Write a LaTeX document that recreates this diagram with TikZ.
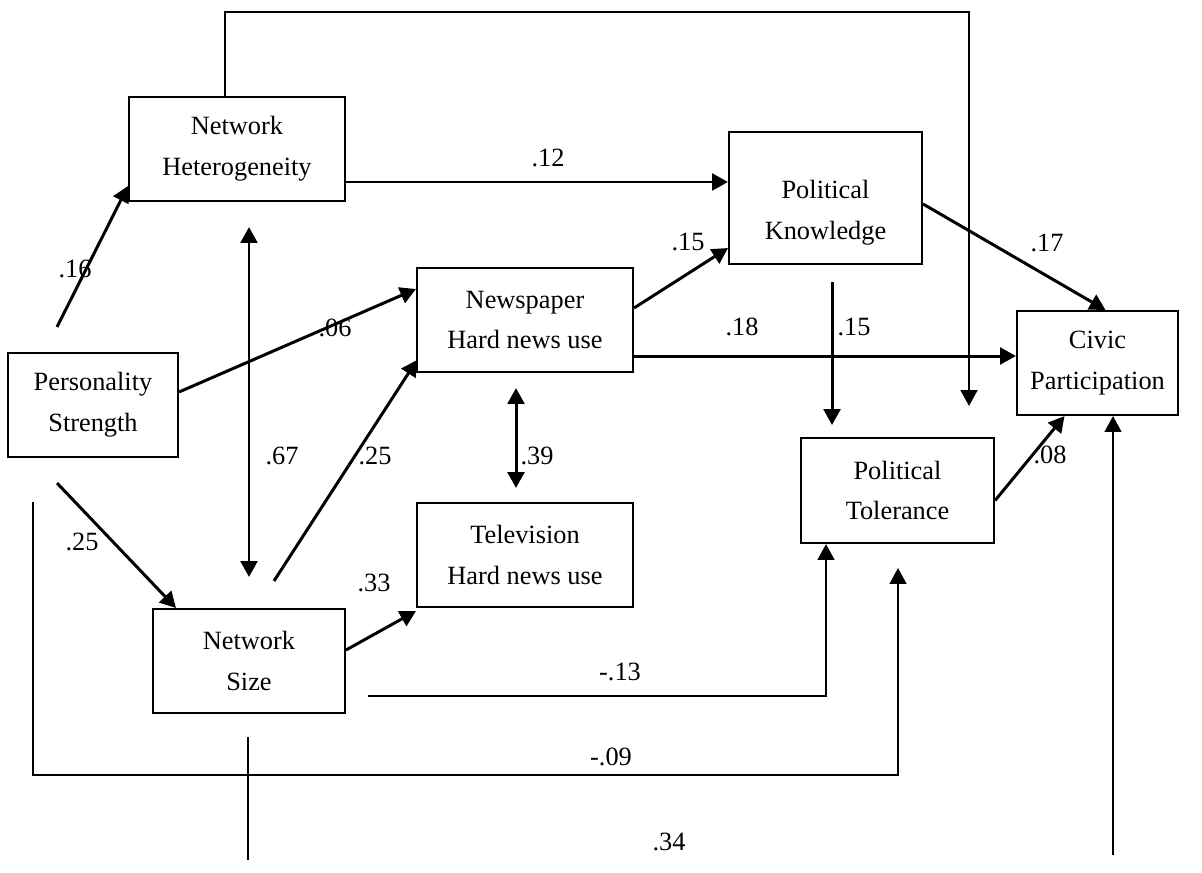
\documentclass[tikz,border=0pt]{standalone}
\usepackage{fontspec}
\setmainfont{Liberation Serif}
\usetikzlibrary{arrows.meta,calc}

\tikzset{
  box/.style={draw, line width=1.2pt, align=center, inner sep=0pt,
    font=\fontsize{15}{23.3}\selectfont},
  link/.style={line width=1.7pt, -{Triangle[length=9pt,width=9.5pt]}},
  twoway/.style={line width=1.7pt,
    {Triangle[length=9pt,width=9.5pt]}-{Triangle[length=9pt,width=9.5pt]}},
  elbow/.style={line width=1.3pt},
  coef/.style={font=\fontsize{15}{17}\selectfont, inner sep=0pt},
}

\begin{document}
\begin{tikzpicture}[x=0.02cm, y=-0.02cm]
    \useasboundingbox (0,0) rectangle (1202,872);
    % boxes
    \node[box, minimum width=4.32cm, minimum height=2.08cm] (het) at (237,149) {Network\\Heterogeneity};
    \node[box, minimum width=3.86cm, minimum height=2.64cm,
      label={[name=knowtxt, align=center, font=\fontsize{15}{23.3}\selectfont, yshift=-0.3cm]center:{Political\\Knowledge}}] (know) at (825.5,198) {};
    \node[box, minimum width=4.32cm, minimum height=2.08cm] (news) at (525,320) {Newspaper\\Hard news use};
    \node[box, minimum width=3.4cm, minimum height=2.08cm] (pers) at (93,405) {Personality\\Strength};
    \node[box, minimum width=3.22cm, minimum height=2.08cm] (civic) at (1097.5,363) {Civic\\Participation};
    \node[box, minimum width=3.86cm, minimum height=2.1cm] (tol) at (897.5,490.5) {Political\\Tolerance};
    \node[box, minimum width=4.32cm, minimum height=2.08cm] (tv) at (525,555) {Television\\Hard news use};
    \node[box, minimum width=3.84cm, minimum height=2.08cm] (size) at (249,661) {Network\\Size};

    % free ends
    \coordinate (topL) at (225,12);
    \coordinate (topR) at (969,12);
    \coordinate (topEnd) at (969,406);
    \coordinate (hkRow) at (0,182);
    \coordinate (ncRow) at (0,356);
    \coordinate (ktTop) at (832,282);
    \coordinate (ktEnd) at (832,425);
    \coordinate (nsA) at (368,696);
    \coordinate (nsB) at (826,696);
    \coordinate (psA) at (33,502);
    \coordinate (psB) at (33,775);
    \coordinate (psC) at (898,775);
    \coordinate (psEnd) at (898,568);
    \coordinate (szA) at (248,737);
    \coordinate (szB) at (248,860);
    \coordinate (cvA) at (1113,855);

    % paths
    \draw[link, elbow] (het.north -| topL) -- (topL) -- (topR) -- (topEnd);
    \draw[link] (het.east |- hkRow) -- (know.west |- hkRow);
    \draw[link] ($(pers.north)+(-36,-25)$) -- ($(het.south west)+(0,-16)$);
    \draw[twoway] ($(het.south -| size.north)+(0,25)$) -- ($(size.north)+(0,-31)$);
    \draw[link] ($(pers.east)+(0,-13)$) -- ($(news.west)+(0,-31)$);
    \draw[link] ($(size.north)+(25,-27)$) -- ($(news.south west)+(1,-13)$);
    \draw[link] ($(news.east)+(0,-12)$) -- ($(know.south west)+(0,-17)$);
    \draw[link] (news.east |- ncRow) -- (civic.west |- ncRow);
    \draw[link] (ktTop) -- (ktEnd);
    \draw[link] ($(know.east)+(0,6)$) -- ($(civic.north)+(8,0)$);
    \draw[twoway] ($(news.south)+(-9,15)$) -- ($(tv.north)+(-9,-14)$);
    \draw[link] ($(pers.south)+(-36,25)$) -- ($(size.north west)+(24,0)$);
    \draw[link] ($(size.east)+(0,-11)$) -- ($(tv.south west)+(0,3)$);
    \draw[link] ($(tol.east)+(0,10)$) -- ($(civic.south)+(-33,0)$);
    \draw[link, elbow] (nsA) -- (nsB) -- (tol.south -| nsB);
    \draw[link, line width=1.1pt] (psA) -- (psB) -- (psC) -- (psEnd);
    \draw[line width=1.1pt] (szA) -- (szB);
    \draw[link, elbow] (cvA) -- (civic.south -| cvA);

    % coefficients
    \node[coef] (c12) at (548,158) {.12};
    \node[coef] (c16) at (75,269) {.16};
    \node[coef] (c67) at (282,456) {.67};
    \node[coef] (c06) at (335,328) {.06};
    \node[coef] (c25a) at (375,456) {.25};
    \node[coef] (c15a) at (688,242) {.15};
    \node[coef] (c18) at (742,327) {.18};
    \node[coef] (c15b) at (854,327) {.15};
    \node[coef] (c17) at (1047,243) {.17};
    \node[coef] (c39) at (537,456) {.39};
    \node[coef] (c25b) at (82,542) {.25};
    \node[coef] (c33) at (374,583) {.33};
    \node[coef] (c08) at (1050,455) {.08};
    \node[coef] (m13) at (620,672) {-.13};
    \node[coef] (m09) at (611,757) {-.09};
    \node[coef] (c34) at (669,842) {.34};
\end{tikzpicture}
\end{document}
